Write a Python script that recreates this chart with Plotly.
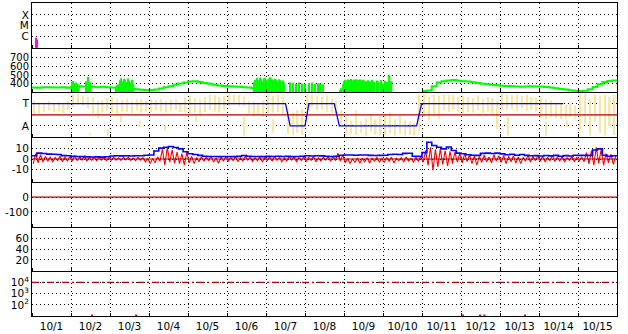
import plotly.graph_objects as go
from plotly.subplots import make_subplots

# ---------------- data ----------------
# time in days since 10/1 00:00
day_labels = ["10/1", "10/2", "10/3", "10/4", "10/5", "10/6", "10/7", "10/8",
              "10/9", "10/10", "10/11", "10/12", "10/13", "10/14", "10/15"]
label_days = [i + 0.5 for i in range(15)]

# regular 3-hour sampling
line_days = [h / 24 for h in range(0, 361, 3)]          # 121 points
bin_days = [(h + 1.5) / 24 for h in range(0, 360, 3)]   # 120 bins

# Panel 1 : flare class events (C=0, M=1, X=2)
flare_day = [0.10, 0.135]
flare_level = [-0.16, -0.35]

# Panel 2 : green speed series (3-hourly), None = missing
green_speed = [
    358, 356, 360, 362, 357, 359, 361, 356,
    365, 372, 368, 364, 370, 362, 366, 360,
    358, 356, 350, 342, 340, 338, 332, 330,
    330, 334, 348, 360, 372, 390, 402, 416,
    425, 428, 420, 410, 400, 390, 382, 376,
    372, 370, 366, 362, 358, 352, 345, 340,
    336, 332, None, None, None, None, None, None,
    None, None, None, None, None, None, None, None,
    None, None, None, None, None, None, None, None,
    None, None, None, None, None, None, None, None,
    318, 324, 372, 415, 430, 438, 442, 434,
    430, 425, 418, 408, 400, 395, 388, 384,
    378, 376, 372, 370, 366, 368, 372, 370,
    368, 364, 358, 350, 342, 334, 326, 320,
    318, 322, 338, 365, 395, 420, 432, 438,
    436,
]
# spiky speed samples
spike_day = [
    1.02, 1.06, 1.10, 1.14, 1.18, 1.40, 1.44, 1.48,
    2.15, 2.185, 2.22, 2.255, 2.29, 2.325, 2.36, 2.395, 2.43, 2.465, 2.50, 2.535, 2.57, 2.605,
    5.70, 5.735, 5.77, 5.805, 5.84, 5.875, 5.91, 5.945, 5.98, 6.015, 6.05, 6.085, 6.12, 6.155,
    6.19, 6.225, 6.26, 6.295, 6.33, 6.365, 6.40, 6.435, 6.47,
    6.61, 6.69, 6.78, 6.84, 6.93, 7.01, 7.10, 7.18, 7.25, 7.33, 7.40, 7.46,
    7.90, 7.935, 7.97, 8.005, 8.04, 8.075, 8.11, 8.145, 8.18, 8.215, 8.25, 8.285, 8.32, 8.355,
    8.39, 8.425, 8.46, 8.495, 8.53,
    8.58, 8.62, 8.68, 8.72, 8.78, 8.84, 8.88, 8.95, 9.00, 9.05, 9.12, 9.17, 9.22,
]
spike_speed = [
    420, 432, 405, 415, 395, 428, 478, 418,
    372, 380, 395, 440, 462, 430, 455, 448, 420, 460, 435, 410, 445, 390,
    420, 445, 468, 440, 472, 455, 430, 462, 470, 448, 435, 460, 475, 452,
    440, 458, 445, 430, 452, 440, 425, 438, 415,
    415, 412, 398, 415, 402, 396, 408, 415, 398, 405, 402, 396,
    330, 350, 395, 430, 445, 438, 450, 442, 455, 440, 448, 436, 452, 445,
    440, 450, 432, 446, 438,
    430, 440, 425, 445, 420, 438, 430, 442, 400, 435, 420, 498, 430,
]

# Panel 3 : sector (T=1, A=0), yellow scatter as low/high per bin
yellow_lo = [
    0.45, 0.55, 0.62, 0.70, 0.60, 0.66, 0.58, 0.72,
    0.85, 0.95, 0.90, 0.78, 0.55, 0.35, 0.60, 0.70,
    0.60, 0.55, 0.65, 0.62, 0.58, 0.70, 0.60, 0.66,
    0.62, 0.70, 0.65, 0.60, 0.68, 0.72, 0.62, 0.60,
    0.55, 0.60, 0.45, 0.62, 0.70, 0.65, 0.60, 0.72,
    0.90, 0.95, 0.88, 0.92, 0.55, 0.45, 0.50, 0.40,
    0.55, 0.60, 0.62, 0.55, -0.35, -0.43, -0.30, -0.40,
    0.80, 0.85, 0.70, 0.75, 0.65, 0.60, 0.55, 0.10,
    -0.43, -0.35, -0.40, -0.30, -0.43, -0.25, -0.38, -0.42,
    -0.40, -0.30, -0.43, -0.35, -0.43, -0.40, -0.43, -0.20,
    0.40, 0.25, 0.45, 0.30, 0.70, 0.62, 0.75, 0.65,
    0.55, 0.62, 0.60, 0.70, 0.58, 0.65, 0.55, 0.00,
    0.70, 0.72, 0.75, 0.68, 0.80, 0.70, 0.72, 0.65,
    0.35, 0.30, 0.40, 0.35, 0.30, 0.35, 0.40, 0.30,
    -0.20, 0.10, -0.43, 0.20, -0.30, -0.43, 0.00, -0.40,
]
yellow_hi = [
    1.12, 1.08, 1.05, 1.10, 1.02, 1.06, 1.00, 1.12,
    1.40, 1.43, 1.35, 1.30, 1.28, 1.10, 1.15, 1.25,
    1.28, 1.20, 1.15, 1.22, 1.10, 1.18, 1.20, 1.12,
    1.20, 1.15, 1.22, 1.10, 1.18, 1.20, 1.05, 1.30,
    1.35, 1.25, 1.20, 1.30, 1.40, 1.38, 1.30, 1.35,
    1.42, 1.40, 1.38, 1.36, 1.12, 1.10, 1.05, 1.13,
    1.42, 1.35, 1.40, 1.30, 0.75, 0.60, 0.70, 0.76,
    1.38, 1.40, 1.35, 1.30, 1.36, 1.20, 1.15, 0.70,
    0.40, 0.25, 0.69, 0.20, 0.35, 0.55, 0.30, 0.45,
    0.50, 0.60, 0.30, 0.45, 0.25, 0.20, 0.15, 1.40,
    1.42, 1.30, 1.40, 1.35, 1.42, 1.38, 1.40, 1.30,
    1.35, 1.30, 1.25, 1.36, 1.20, 1.30, 1.25, 1.10,
    1.42, 1.40, 1.38, 1.42, 1.35, 1.40, 1.30, 1.25,
    1.28, 1.20, 1.15, 1.05, 0.98, 0.95, 1.00, 0.92,
    1.40, 1.42, 1.20, 1.40, 1.35, 1.42, 1.30, 1.40,
]
yellow_out_day = [1.50, 1.95, 2.28, 2.78, 3.40, 4.20, 5.45, 6.18, 11.92, 12.20, 13.18, 13.72]
yellow_out_lo = [-0.40, -0.43, 0.15, -0.05, -0.20, 0.20, -0.43, -0.30, -0.15, -0.43, -0.43, -0.05]
yellow_out_hi = [-0.30, -0.15, 0.45, 0.25, 0.02, 0.45, 0.40, 0.30, 0.20, 0.40, 0.20, 0.25]

sector_day = [0, 6.50, 6.62, 7.00, 7.10, 7.75, 7.88, 9.86, 9.99, 13.62]
sector_val = [1, 1, 0, 0, 1, 1, 0, 0, 1, 1]
sector_mid_day = [0, 15]
sector_mid_val = [0.5, 0.5]

# Panel 4 : blue magnitude (3-hourly) and red component (low/high per bin)
blue_bt = [
    3.0, 5.5, 5.2, 4.6, 4.5, 4.3, 3.2, 3.0,
    2.5, 2.3, 2.2, 2.0, 1.9, 2.0, 1.8, 2.1,
    2.8, 3.0, 2.9, 3.0, 2.8, 3.1, 3.0, 3.6,
    3.8, 7.5, 10.2, 11.0, 11.7, 10.8, 9.5, 6.8,
    5.0, 4.2, 3.4, 2.6, 2.4, 2.3, 2.2, 2.4,
    2.3, 2.2, 2.5, 3.3, 2.6, 2.4, 2.3, 2.2,
    2.5, 2.3, 2.6, 2.4, 2.5, 2.2, 2.4, 2.6,
    3.0, 2.8, 3.1, 2.9, 2.6, 2.4, 2.5, 3.5,
    3.7, 3.8, 3.6, 3.7, 3.8, 3.4, 3.3, 3.4,
    3.5, 4.3, 4.4, 4.2, 5.3, 5.4, 2.6, 2.5,
    6.0, 15.7, 12.6, 11.0, 9.5, 11.2, 8.0, 5.5,
    4.9, 4.0, 3.6, 3.4, 5.3, 5.5, 5.2, 5.5,
    4.8, 4.0, 4.5, 3.6, 4.2, 3.4, 3.0, 3.2,
    2.8, 3.3, 2.9, 3.4, 2.6, 3.2, 2.8, 3.5,
    3.4, 3.4, 3.4, 8.5, 9.5, 3.5, 2.6, 3.0,
    2.8,
]
red_lo = [
    -4.5, -3.5, -2.8, -2.0, -2.8, -1.5, -2.5, -1.8,
    -1.8, -1.5, -1.0, -1.8, -1.2, -1.6, -1.0, -1.5,
    -1.2, -1.0, -1.4, -0.8, -1.2, -1.5, -1.0, -2.5,
    -4.3, -3.5, -2.0, -5.8, -3.0, -4.0, -4.3, -5.8,
    -3.5, -4.3, -2.5, -2.0, -1.5, -2.8, -4.0, -1.8,
    -2.0, -1.5, -2.5, -1.8, -1.0, -2.2, -1.6, -2.8,
    -1.5, -2.0, -1.2, -2.5, -1.8, -1.0, -2.4, -1.5,
    -2.0, -1.2, -2.6, -1.8, -1.0, -2.2, -1.5, -2.0,
    -3.5, -4.3, -3.0, -4.0, -2.5, -3.8, -2.0, -3.0,
    -3.2, -2.0, -3.7, -1.5, -2.8, -2.0, -3.0, -2.0,
    -3.0, -6.0, -10.5, -7.4, -5.0, -6.5, -4.3, -3.0,
    -3.5, -2.5, -4.3, -5.8, -3.0, -2.5, -3.5, -2.0,
    -3.0, -4.3, -2.5, -3.8, -4.3, -2.0, -2.8, -1.5,
    -2.0, -2.8, -1.5, -2.4, -1.8, -2.8, -1.2, -2.5,
    -1.8, -2.5, -4.5, -5.8, -4.0, -5.8, -3.5, -5.0,
]
red_hi = [
    5.0, 4.0, 2.5, 2.0, 1.5, 2.5, 1.8, 2.2,
    3.4, 1.8, 2.5, 1.2, 2.0, 1.5, 1.8, 1.2,
    1.8, 1.2, 1.5, 1.8, 1.0, 1.6, 1.2, 0.5,
    0.5, 2.0, 9.0, 11.0, 8.5, 6.5, 5.0, 6.5,
    2.5, 1.5, 2.2, 1.8, 2.5, 1.0, 1.5, 2.0,
    1.5, 2.2, 1.0, 2.5, 1.8, 1.2, 2.0, 1.5,
    1.8, 2.4, 1.5, 1.0, 2.2, 1.6, 1.2, 2.0,
    1.5, 2.5, 1.0, 1.8, 2.2, 2.8, 5.5, 4.0,
    0.5, 0.0, 1.0, 0.5, 1.2, 0.8, 1.5, 0.5,
    1.5, 1.8, 0.8, 1.2, 1.8, 0.5, 1.5, 1.8,
    8.0, 11.0, 9.0, 9.5, 8.0, 7.0, 6.5, 5.0,
    5.0, 4.0, 3.0, 2.5, 3.5, 2.0, 4.0, 3.0,
    3.4, 2.5, 3.0, 2.0, 1.5, 3.4, 2.5, 3.0,
    2.5, 1.5, 3.4, 1.8, 2.2, 1.2, 2.5, 1.6,
    2.0, 6.0, 8.0, 11.0, 9.0, 5.0, 4.5, 3.0,
]
zero_day = [0, 15]
zero_val = [0, 0]

# Panel 6 : no samples in this period
kp_day = [0, 15]
kp_val = [None, None]

# Panel 7 : threshold and sparse flux samples
flux_thr_day = [0, 15]
flux_thr_val = [1e4, 1e4]
flux_day = [1.54, 2.67, 11.05, 11.49, 11.60, 12.64]
flux_val = [11, 11, 11, 11, 11, 11]

# ---------------- figure ----------------
DARK_RED = "#b00000"
YELLOW = "#f8e6a2"

# red component drawn as a noisy trace visiting each bin's low then high value
red_x, red_y = [], []
for t, lo, hi in zip(bin_days, red_lo, red_hi):
    red_x += [t - 0.031, t + 0.031]
    red_y += [lo, hi]

fig = make_subplots(rows=7, cols=1, shared_xaxes=True, vertical_spacing=0)

# panel 1
FLARE_BASE = -1.3
fig.add_trace(go.Bar(x=flare_day, y=[v - FLARE_BASE for v in flare_level],
                     base=FLARE_BASE, width=0.03, marker_color="#ff00ff",
                     marker_line_width=0), row=1, col=1)

# panel 2
fig.add_trace(go.Scatter(x=line_days, y=green_speed, mode="lines", line_shape="hv",
                         line=dict(color="#00ff00", width=2), connectgaps=False),
              row=2, col=1)
fig.add_trace(go.Bar(x=spike_day, y=spike_speed, width=0.036,
                     marker_color="#00ff00", marker_line_width=0), row=2, col=1)

# panel 3
fig.add_trace(go.Bar(x=bin_days, y=[h - l for l, h in zip(yellow_lo, yellow_hi)],
                     base=yellow_lo, width=0.038, marker_color=YELLOW,
                     marker_line_width=0), row=3, col=1)
fig.add_trace(go.Bar(x=yellow_out_day,
                     y=[h - l for l, h in zip(yellow_out_lo, yellow_out_hi)],
                     base=yellow_out_lo, width=0.03, marker_color=YELLOW,
                     marker_line_width=0), row=3, col=1)
fig.add_trace(go.Scatter(x=sector_mid_day, y=sector_mid_val, mode="lines",
                         line=dict(color=DARK_RED, width=1.2)), row=3, col=1)
fig.add_trace(go.Scatter(x=sector_day, y=sector_val, mode="lines",
                         line=dict(color="#0000ff", width=1.3)), row=3, col=1)

# panel 4
fig.add_trace(go.Scatter(x=red_x, y=red_y, mode="lines",
                         line=dict(color="#ff0000", width=1.1)), row=4, col=1)
fig.add_trace(go.Scatter(x=zero_day, y=zero_val, mode="lines",
                         line=dict(color=DARK_RED, width=1.2)), row=4, col=1)
fig.add_trace(go.Scatter(x=line_days, y=blue_bt, mode="lines", line_shape="hv",
                         line=dict(color="#0000ff", width=1.6)), row=4, col=1)

# panel 5
fig.add_trace(go.Scatter(x=zero_day, y=zero_val, mode="lines",
                         line=dict(color=DARK_RED, width=1.2)), row=5, col=1)

# panel 6
fig.add_trace(go.Scatter(x=kp_day, y=kp_val, mode="lines",
                         line=dict(color="#000000", width=1)), row=6, col=1)

# panel 7
fig.add_trace(go.Scatter(x=flux_thr_day, y=flux_thr_val, mode="lines",
                         line=dict(color=DARK_RED, width=1.2, dash="7px,3px,2px,3px")),
              row=7, col=1)
fig.add_trace(go.Scatter(x=flux_day, y=flux_val, mode="markers",
                         marker=dict(color="#ff0000", size=2, symbol="square")),
              row=7, col=1)

DOTS = "1px,3px"

for r in range(1, 8):
    fig.update_xaxes(row=r, col=1, range=[0, 15],
                     tickmode="array", tickvals=label_days, ticktext=day_labels,
                     ticks="", showgrid=False,
                     minor=dict(tickmode="linear", tick0=0, dtick=1, showgrid=True,
                                gridcolor="black", gridwidth=1, griddash=DOTS,
                                ticks="inside", ticklen=3, tickcolor="black", tickwidth=1),
                     showline=True, mirror=(r == 1), linecolor="black", linewidth=1,
                     zeroline=False, showticklabels=(r == 7))
    fig.update_yaxes(row=r, col=1, showline=True, mirror=True, linecolor="black",
                     linewidth=1, ticks="", zeroline=False,
                     showgrid=True, gridcolor="black", gridwidth=1, griddash=DOTS)

fig.update_yaxes(row=1, col=1, range=[-1.1, 3.12], tickvals=[0, 1, 2], ticktext=["C", "M", "X"])
fig.update_yaxes(row=2, col=1, range=[302, 810], tickvals=[400, 500, 600, 700],
                 tickfont=dict(size=10))
fig.update_yaxes(row=3, col=1, range=[-0.5, 1.5], tickvals=[0, 1], ticktext=["A", "T"])
fig.update_yaxes(row=4, col=1, range=[-21.4, 20.5], tickvals=[-10, 0, 10],
                 ticktext=["-10", "0", "10"])
fig.update_yaxes(row=5, col=1, range=[-198, 102], tickvals=[-100, 0], ticktext=["-100", "0"])
fig.update_yaxes(row=6, col=1, range=[-1, 82], tickvals=[20, 40, 60])
fig.update_yaxes(row=7, col=1, type="log", range=[1, 5], tickvals=[100, 1000, 10000],
                 ticktext=["10<sup>2</sup>", "10<sup>3</sup>", "10<sup>4</sup>"])

fig.update_layout(
    width=628, height=334,
    margin=dict(l=32, r=11, t=2, b=17),
    paper_bgcolor="white", plot_bgcolor="white",
    showlegend=False, barmode="overlay",
    font=dict(family="DejaVu Sans, Liberation Sans, sans-serif", size=10.5, color="black"),
)

fig.write_html("out.html")
